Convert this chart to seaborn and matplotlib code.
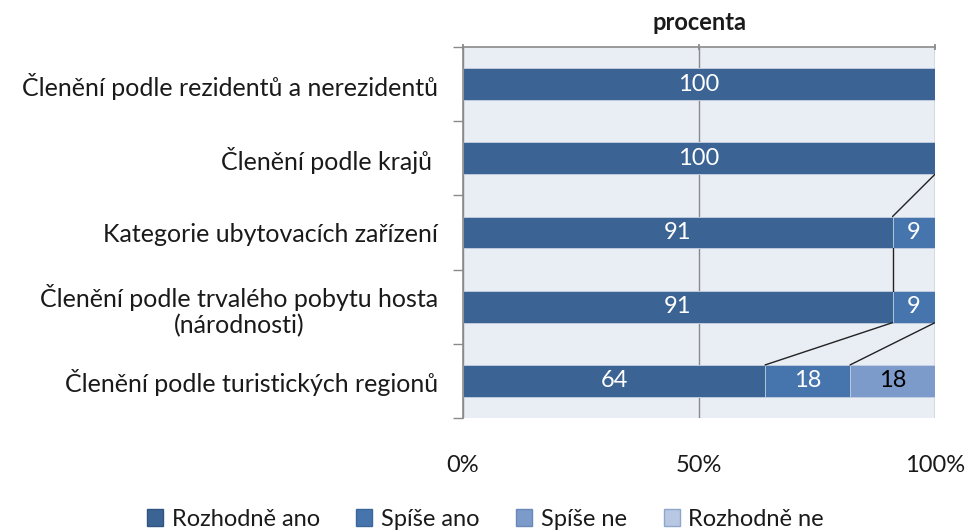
import numpy as np
import matplotlib
matplotlib.use('Agg')
import matplotlib.pyplot as plt
import seaborn as sns
from matplotlib.patches import Patch

kategorie = ['Členění podle rezidentů a nerezidentů',
             'Členění podle krajů ',
             'Kategorie ubytovacích zařízení',
             'Členění podle trvalého pobytu hosta\n(národnosti)',
             'Členění podle turistických regionů']
rozhodne_ano = [100, 100, 91, 91, 64]
spise_ano = [0, 0, 9, 9, 18]
spise_ne = [0, 0, 0, 0, 18]
rozhodne_ne = [0, 0, 0, 0, 0]
nazvy = ['Rozhodně ano', 'Spíše ano', 'Spíše ne', 'Rozhodně ne']
x_ticks = [0, 50, 100]
x_labels = ['0%', '50%', '100%']

barvy = ['#3b6494', '#4675ae', '#7c9bca', '#b8c8e2']
okraje = ['#2f5580', '#3a6699', '#6a89b8', '#8ea6cc']

sns.set_theme(style='white')
plt.rcParams['font.family'] = ['Lato', 'DejaVu Sans']

fig = plt.figure(figsize=(9.65, 5.31), dpi=100)
ax = fig.add_axes([463/965, 1 - 418/531, 472/965, 371/531])
ax.set_facecolor('#e9edf4')

serie = [rozhodne_ano, spise_ano, spise_ne, rozhodne_ne]
kumul = np.cumsum(np.array(serie), axis=0)
h = 0.43

# stacked bars: draw cumulative sums from the last series to the first
for i in range(len(serie) - 1, -1, -1):
    sns.barplot(x=kumul[i], y=list(range(len(kategorie))), orient='h', color=barvy[i],
                saturation=1, width=h, edgecolor='#c9d3e4', linewidth=0.6, ax=ax,
                native_scale=True)

# value labels
for i, s in enumerate(serie):
    for j, v in enumerate(s):
        if v > 0:
            stred = kumul[i][j] - v / 2
            ax.text(stred, j, f'{v}', ha='center', va='center', fontsize=17,
                    color='black' if i == 2 else 'white')

# series lines between neighbouring bars
for i in range(len(serie)):
    for j in range(len(kategorie) - 1):
        a, b = kumul[i][j], kumul[i][j + 1]
        if a == 100 and b == 100:
            continue
        ax.plot([a, b], [j + h / 2, j + 1 - h / 2], color='#222222', lw=1.0, zorder=5)

ax.set_xlim(0, 100)
ax.set_ylim(len(kategorie) - 0.5, -0.5)
ax.set_xticks(x_ticks)
ax.set_xticklabels(x_labels)
ax.set_yticks(range(len(kategorie)))
ax.set_yticklabels(kategorie, fontsize=18, color='#1a1a1a')
for t in ax.get_yticklabels():
    t.set_multialignment('center')
ax.set_yticks(np.arange(-0.5, len(kategorie)), minor=True)
ax.set_xlabel('')
ax.set_ylabel('')
ax.grid(axis='x', color='#8a8a8a', lw=1.0)
ax.set_axisbelow(True)

for sp in ['right', 'bottom']:
    ax.spines[sp].set_visible(False)
for sp in ['left', 'top']:
    ax.spines[sp].set_color('#8a8a8a')
    ax.spines[sp].set_linewidth(1.2)

ax.tick_params(axis='y', which='major', length=0, pad=18)
ax.tick_params(axis='y', which='minor', left=True, length=7, width=1, color='#8a8a8a')
ax.tick_params(axis='x', top=True, bottom=False, labeltop=False, labelbottom=True,
               length=4, direction='inout', color='#8a8a8a', labelsize=17,
               labelcolor='#1a1a1a', pad=25)

ax.set_title('procenta', fontsize=17, fontweight='bold', color='#1a1a1a', pad=12)

handles = [Patch(facecolor=barvy[i], edgecolor=okraje[i], label=nazvy[i]) for i in range(4)]
fig.legend(handles=handles, loc='center', bbox_to_anchor=(0.503, 0.022), ncol=4,
           frameon=False, fontsize=17, handlelength=0.68, handleheight=0.68,
           handletextpad=0.37, columnspacing=1.55, labelcolor='#1a1a1a')

fig.savefig('out.png', dpi=100)
